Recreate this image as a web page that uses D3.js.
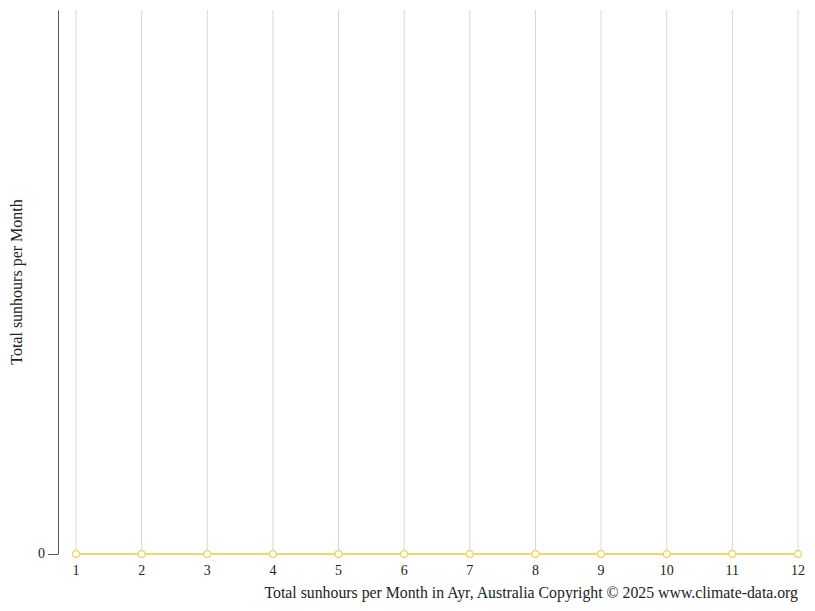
<!DOCTYPE html>
<html>
<head>
<meta charset="utf-8">
<script src="https://cdn.jsdelivr.net/npm/d3@7"></script>
<style>
  body { margin: 0; background: #fff; }
  text { font-family: "Liberation Serif", "Times New Roman", serif; fill: #222; }
</style>
</head>
<body>
<div id="chart"></div>
<script>
// values
const months = [1, 2, 3, 4, 5, 6, 7, 8, 9, 10, 11, 12];
const sunhours = [0, 0, 0, 0, 0, 0, 0, 0, 0, 0, 0, 0];
const yTicks = [0];
const yLabel = "Total sunhours per Month";
const caption = "Total sunhours per Month in Ayr, Australia Copyright \u00a9 2025 www.climate-data.org";

const width = 815, height = 611;
const plotLeft = 58, plotTop = 10, plotBottom = 554;

const svg = d3.select("#chart").append("svg")
  .attr("width", width)
  .attr("height", height);

const x = d3.scalePoint()
  .domain(months)
  .range([76, 798]);

const y = d3.scaleLinear()
  .domain([0, 1])
  .range([plotBottom, plotTop]);

// vertical grid
svg.append("g")
  .selectAll("line")
  .data(months)
  .join("line")
  .attr("x1", d => x(d)).attr("x2", d => x(d))
  .attr("y1", plotTop).attr("y2", plotBottom)
  .attr("stroke", "#d8d8d8")
  .attr("stroke-width", 1);

// y axis
const yAxis = svg.append("g")
  .attr("transform", `translate(${plotLeft},0)`)
  .call(d3.axisLeft(y).tickValues(yTicks).tickFormat(d3.format("d")).tickSize(10).tickSizeOuter(0));
yAxis.attr("font-family", null).attr("font-size", null);
yAxis.select(".domain").attr("stroke", "#555");
yAxis.selectAll(".tick line").attr("stroke", "#555");
yAxis.selectAll(".tick text")
  .style("font-size", "14px")
  .attr("fill", "#222")
  .attr("x", -13)
  .attr("dy", "0.25em");

// x labels
svg.append("g")
  .selectAll("text")
  .data(months)
  .join("text")
  .attr("x", d => x(d))
  .attr("y", 575)
  .attr("text-anchor", "middle")
  .style("font-size", "14px")
  .text(d => d);

// line
const line = d3.line()
  .x((d, i) => x(months[i]))
  .y(d => y(d));

svg.append("path")
  .datum(sunhours)
  .attr("d", line)
  .attr("fill", "none")
  .attr("stroke", "#f2d56b")
  .attr("stroke-width", 2);

svg.append("g")
  .selectAll("circle")
  .data(sunhours)
  .join("circle")
  .attr("cx", (d, i) => x(months[i]))
  .attr("cy", d => y(d))
  .attr("r", 3.5)
  .attr("fill", "#fff")
  .attr("stroke", "#f2d56b")
  .attr("stroke-width", 1.5);

// y title
svg.append("text")
  .attr("transform", `translate(22,${(plotTop + plotBottom) / 2}) rotate(-90)`)
  .attr("text-anchor", "middle")
  .style("font-size", "16px")
  .text(yLabel);

// caption
svg.append("text")
  .attr("x", 798)
  .attr("y", 598)
  .attr("text-anchor", "end")
  .style("font-size", "15.8px")
  .text(caption);
</script>
</body>
</html>
